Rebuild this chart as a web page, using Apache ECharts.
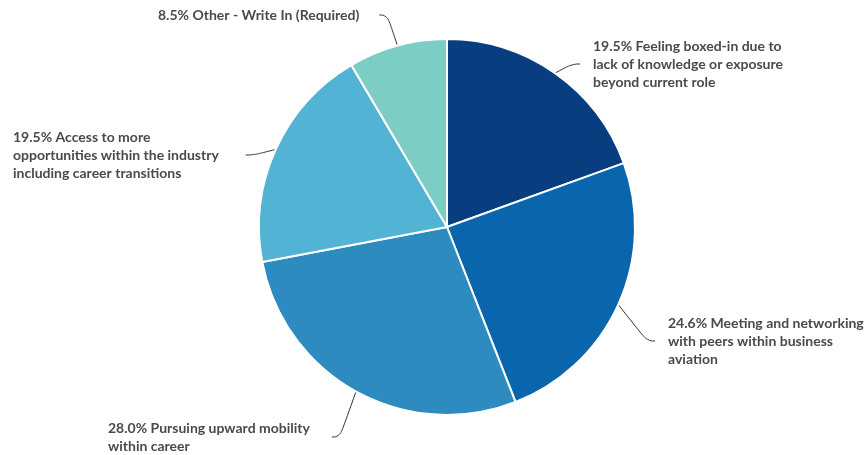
<!DOCTYPE html>
<html><head><meta charset="utf-8">
<script src="https://cdn.jsdelivr.net/npm/echarts@6/dist/echarts.min.js"></script>
<style>html,body{margin:0;padding:0;background:#fff}#c{width:865px;height:455px}</style>
</head><body><div id="c"></div>
<script>
const categories = [
  "Feeling boxed-in due to\nlack of knowledge or exposure\nbeyond current role",
  "Meeting and networking\nwith peers within business\naviation",
  "Pursuing upward mobility\nwithin career",
  "Access to more\nopportunities within the industry\nincluding career transitions",
  "Other - Write In (Required)"
];
const values = [19.5, 24.6, 28.0, 19.5, 8.5];
const colors = ["#083e80", "#0966ad", "#2e8bc0", "#52b3d4", "#7ccdc4"];

// label placement (layout only): top-left corner of each label block incl. padding
const gap = 13;
const labelPos = [[593 - gap, 37], [668 - gap, 314], [108, 419], [13, 128], [158, 6]];
const labelPad = [[0, 0, 0, gap], [0, 0, 0, gap], [0, 22, 0, 0], [0, 20, 0, 0], [0, 20, 0, 0]];

const chart = echarts.init(document.getElementById('c'));
chart.setOption({
  animation: false,
  series: [{
    type: 'pie',
    center: [447, 227],
    radius: 188,
    startAngle: 90,
    clockwise: true,
    data: categories.map((n, i) => ({
      name: n, value: values[i],
      itemStyle: { color: colors[i] },
      label: { padding: labelPad[i] }
    })),
    itemStyle: { borderColor: '#fff', borderWidth: 2 },
    label: {
      formatter: p => p.value.toFixed(1) + '% ' + p.name,
      color: '#4a4a4a',
      fontFamily: 'Lato',
      fontWeight: 'bold',
      fontSize: 14,
      lineHeight: 18,
      align: 'left',
      overflow: 'none'
    },
    labelLine: { show: true, length: 22, length2: 8, smooth: 0.5, lineStyle: { color: '#333', width: 1 } },
    labelLayout: function (params) {
      const p = labelPos[params.dataIndex];
      return { x: p[0], y: p[1], align: 'left', verticalAlign: 'top' };
    }
  }]
});
</script></body></html>
